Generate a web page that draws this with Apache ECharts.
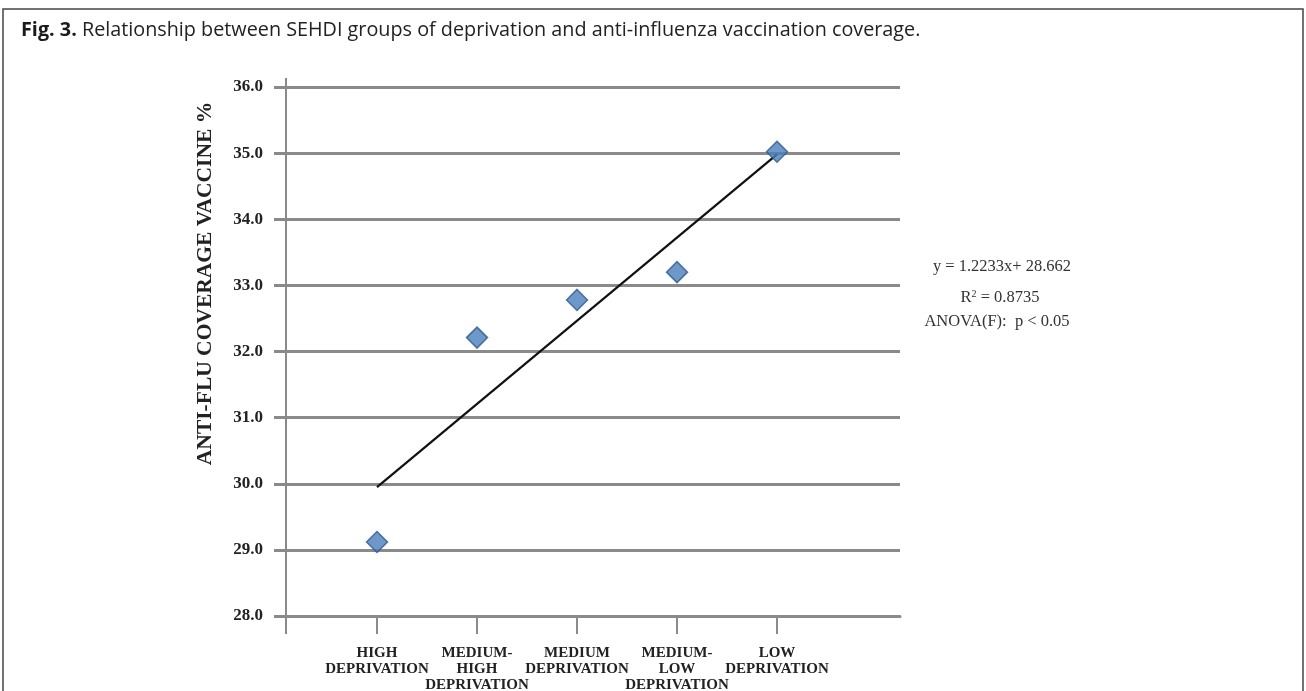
<!DOCTYPE html>
<html>
<head>
<meta charset="utf-8">
<script src="https://cdn.jsdelivr.net/npm/echarts@6/dist/echarts.min.js"></script>
<style>
html,body{margin:0;padding:0;background:#fff;}
#chart{width:1306px;height:691px;}
</style>
</head>
<body>
<div id="chart"></div>
<script>
// ---- data ----
const categories = ['HIGH\nDEPRIVATION', 'MEDIUM-\nHIGH\nDEPRIVATION', 'MEDIUM\nDEPRIVATION', 'MEDIUM-\nLOW\nDEPRIVATION', 'LOW\nDEPRIVATION'];
const groupIndex = [1, 2, 3, 4, 5];
const coverage = [29.12, 32.21, 32.78, 33.20, 35.02];
const trendX = [1, 5];
const trendY = [29.95, 34.98];
const annotationLines = ['y = 1.2233x+ 28.662', 'R{sup|2} = 0.8735', 'ANOVA(F):  p < 0.05'];
const titleBold = 'Fig. 3.';
const titleText = ' Relationship between SEHDI groups of deprivation and anti-influenza vaccination coverage.';
const yName = 'ANTI-FLU COVERAGE VACCINE %';

const serif = "'Liberation Serif','Times New Roman',serif";
const gridGray = '#8a8a8a';
const xMin = 0.09, xMax = 6.23;
// odd and even groups on two overlaid bottom axes so overlapping label boxes are not auto-hidden
const oddGroups = groupIndex.filter(v => v % 2 === 1);
const evenGroups = groupIndex.filter(v => v % 2 === 0);

function catLabel(v) { return categories[Math.round(v) - 1] || ''; }
const xLabelStyle = {
  show: true, margin: 29, formatter: catLabel, hideOverlap: false,
  fontFamily: serif, fontWeight: 'bold', fontSize: 15, lineHeight: 16, color: '#222', align: 'center'
};

const chart = echarts.init(document.getElementById('chart'));
chart.setOption({
  animation: false,
  backgroundColor: '#fff',
  title: {
    text: '{b|' + titleBold + '}' + titleText,
    left: 16, top: 15,
    textStyle: {
      fontFamily: "'Open Sans', sans-serif", fontSize: 19.8, fontWeight: 'normal', color: '#222',
      rich: { b: { fontFamily: "'Open Sans', sans-serif", fontSize: 19.8, fontWeight: 'bold', color: '#1a1a1a' } }
    }
  },
  graphic: [
    { type: 'rect', shape: { x: 3, y: 9, width: 1300, height: 700 }, style: { fill: 'none', stroke: '#444', lineWidth: 1.5 }, silent: true },
    { type: 'line', shape: { x1: 286, y1: 78, x2: 286, y2: 88 }, style: { stroke: gridGray, lineWidth: 2 }, silent: true },
    { type: 'text', x: 1002, y: 267, style: { text: annotationLines[0], align: 'center', verticalAlign: 'middle', font: '16.5px ' + serif, fill: '#333' } },
    { type: 'text', x: 1000, y: 298, style: { text: annotationLines[1], align: 'center', verticalAlign: 'middle', font: '16.5px ' + serif, fill: '#333',
        rich: { sup: { fontSize: 10, verticalAlign: 'top', padding: [0, 0, 6, 0], fontFamily: serif, fill: '#333' } } } },
    { type: 'text', x: 997, y: 322, style: { text: annotationLines[2], align: 'center', verticalAlign: 'middle', font: '16.5px ' + serif, fill: '#333' } }
  ],
  grid: { left: 286, right: 406, top: 87, bottom: 75, containLabel: false, outerBoundsMode: 'none' },
  xAxis: [
    {
      type: 'value', min: xMin, max: xMax, position: 'bottom',
      axisLine: { show: true, lineStyle: { color: gridGray, width: 3 } },
      axisTick: { show: true, length: 18, lineStyle: { color: gridGray, width: 2 }, customValues: [xMin].concat(oddGroups) },
      axisLabel: Object.assign({ customValues: oddGroups }, xLabelStyle),
      splitLine: { show: false }
    },
    {
      type: 'value', min: xMin, max: xMax, position: 'bottom', offset: 0,
      axisLine: { show: false },
      axisTick: { show: true, length: 18, lineStyle: { color: gridGray, width: 2 }, customValues: evenGroups },
      axisLabel: Object.assign({ customValues: evenGroups }, xLabelStyle),
      splitLine: { show: false }
    }
  ],
  yAxis: {
    type: 'value', min: 28, max: 36, interval: 1,
    name: yName, nameLocation: 'middle', nameGap: 70,
    nameTextStyle: { fontFamily: serif, fontWeight: 'bold', fontSize: 21.5, color: '#222', padding: [0, 0, 0, 136] },
    axisLine: { show: true, lineStyle: { color: gridGray, width: 2 } },
    axisTick: { show: true, length: 12, lineStyle: { color: gridGray, width: 3 } },
    axisLabel: { margin: 23, formatter: function (v) { return v.toFixed(1); }, fontFamily: serif, fontWeight: 'bold', fontSize: 17, color: '#222' },
    splitLine: { show: true, lineStyle: { color: gridGray, width: 3 } }
  },
  series: [
    {
      type: 'line', xAxisIndex: 0, data: trendX.map((x, i) => [x, trendY[i]]), symbol: 'none',
      lineStyle: { color: '#111', width: 2.2 }, z: 3, silent: true
    },
    {
      type: 'scatter', xAxisIndex: 0, data: groupIndex.map((x, i) => [x, coverage[i]]), symbol: 'diamond', symbolSize: 21,
      itemStyle: { color: '#4a7ebb', borderColor: '#2f5a8c', borderWidth: 1.5 }, z: 4
    }
  ]
});
</script>
</body>
</html>
